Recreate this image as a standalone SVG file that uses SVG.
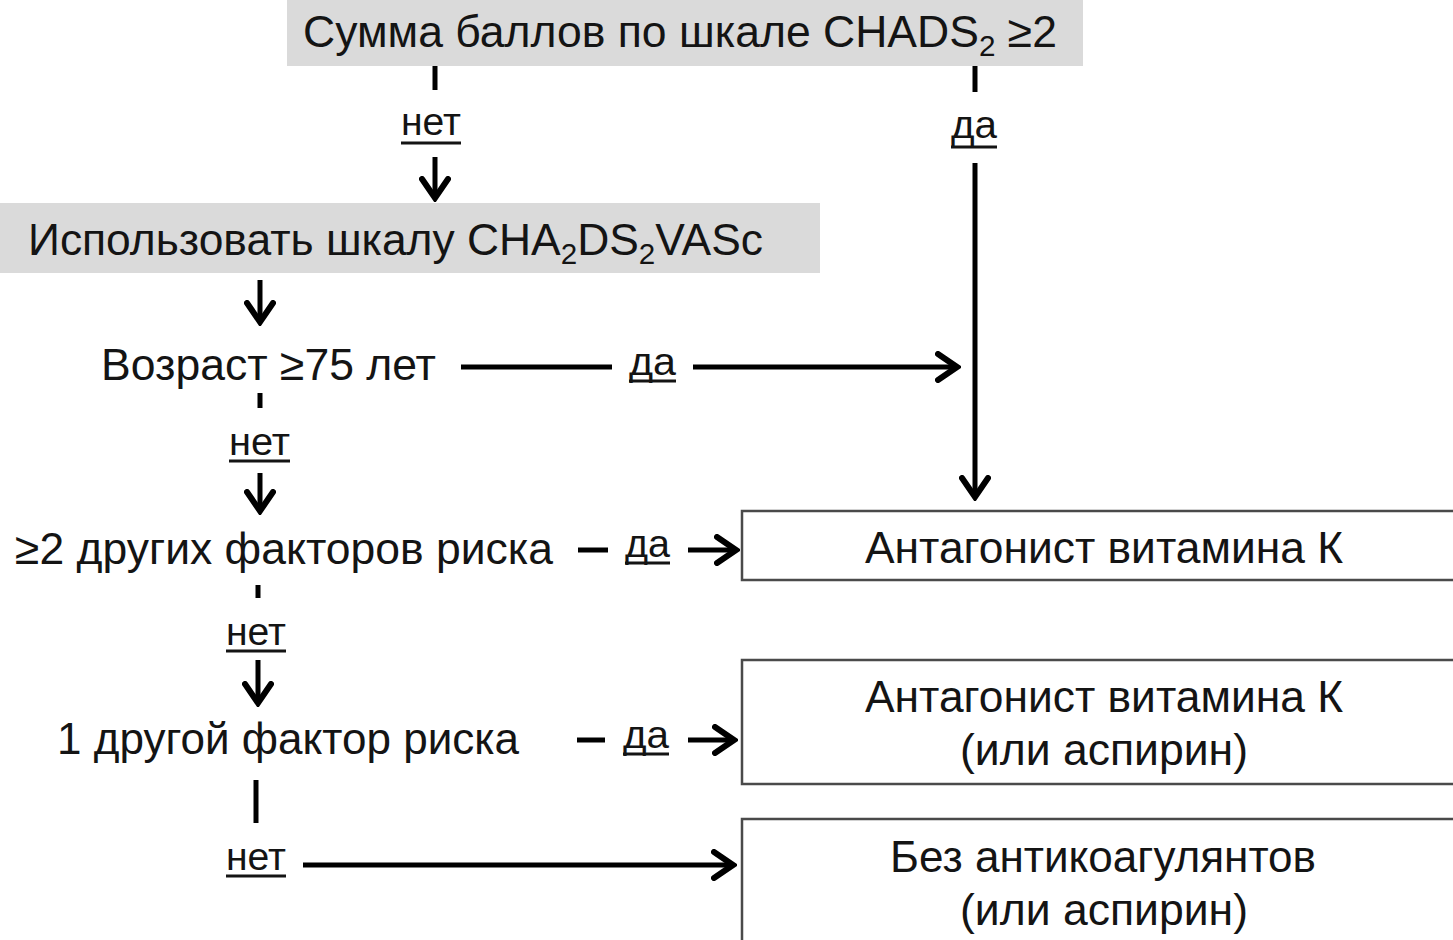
<svg xmlns="http://www.w3.org/2000/svg" width="1453" height="940" viewBox="0 0 1453 940">
<defs>
<marker id="chev" markerUnits="userSpaceOnUse" viewBox="0 0 26 32" markerWidth="26" markerHeight="32" refX="22" refY="16" orient="auto">
<path d="M3,3 L22,16 L3,29" fill="none" stroke="#000" stroke-width="6" stroke-linejoin="miter" stroke-linecap="round"/>
</marker>
</defs>
<style>
.t{font-family:"Liberation Sans",Arial,sans-serif;font-size:45px;fill:#141414}
.sub{font-size:30px}
.lb{font-family:"Liberation Sans",Arial,sans-serif;font-size:38px;fill:#141414}
.ul{stroke:#141414;stroke-width:3}
.gray{fill:#dadada}
.box{fill:#fff;stroke:#4a4a4a;stroke-width:2.5}
.c{stroke:#000;stroke-width:5;fill:none}
.a{stroke:#000;stroke-width:5;fill:none;marker-end:url(#chev)}
</style>
<rect width="1453" height="940" fill="#fff"/>
<g id="start">
<rect class="gray" x="287" y="0" width="796" height="66"/>
<text class="t" x="303" y="47" textLength="754" lengthAdjust="spacingAndGlyphs">Сумма баллов по шкале CHADS<tspan class="sub" dy="9">2</tspan><tspan dy="-9"> ≥2</tspan></text>
</g>
<g id="use-cha2ds2vasc">
<rect class="gray" x="0" y="203" width="820" height="70"/>
<text class="t" x="28" y="255" textLength="735" lengthAdjust="spacingAndGlyphs">Использовать шкалу CHA<tspan class="sub" dy="9">2</tspan><tspan dy="-9">DS</tspan><tspan class="sub" dy="9">2</tspan><tspan dy="-9">VASc</tspan></text>
</g>
<g id="age">
<text class="t" x="101" y="380" textLength="335" lengthAdjust="spacingAndGlyphs">Возраст ≥75 лет</text>
</g>
<g id="two-factors">
<text class="t" x="15" y="564" textLength="538" lengthAdjust="spacingAndGlyphs">≥2 других факторов риска</text>
</g>
<g id="one-factor">
<text class="t" x="57" y="754" textLength="462" lengthAdjust="spacingAndGlyphs">1 другой фактор риска</text>
</g>
<g id="vka">
<rect class="box" x="742" y="511" width="730" height="69"/>
<text class="t" x="865" y="563" textLength="478" lengthAdjust="spacingAndGlyphs">Антагонист витамина К</text>
</g>
<g id="vka-or-aspirin">
<rect class="box" x="742" y="660" width="730" height="124"/>
<text class="t" x="865" y="712" textLength="478" lengthAdjust="spacingAndGlyphs">Антагонист витамина К</text>
<text class="t" x="960" y="765" textLength="288" lengthAdjust="spacingAndGlyphs">(или аспирин)</text>
</g>
<g id="no-anticoag">
<rect class="box" x="742" y="819" width="730" height="140"/>
<text class="t" x="890" y="872" textLength="426" lengthAdjust="spacingAndGlyphs">Без антикоагулянтов</text>
<text class="t" x="960" y="925" textLength="288" lengthAdjust="spacingAndGlyphs">(или аспирин)</text>
</g>
<g id="connectors">
<line class="c" x1="435" y1="66" x2="435" y2="90"/>
<line class="a" x1="435" y1="157" x2="435" y2="198"/>
<line class="c" x1="975" y1="66" x2="975" y2="92"/>
<line class="a" x1="975" y1="163" x2="975" y2="497"/>
<line class="a" x1="260" y1="280" x2="260" y2="322"/>
<line class="c" x1="461" y1="367" x2="612" y2="367"/>
<line class="a" x1="693" y1="367" x2="957" y2="367"/>
<line class="c" x1="260" y1="393" x2="260" y2="408"/>
<line class="a" x1="260" y1="473" x2="260" y2="511"/>
<line class="c" x1="578" y1="550" x2="608" y2="550"/>
<line class="a" x1="688" y1="550" x2="736" y2="550"/>
<line class="c" x1="258" y1="585" x2="258" y2="598"/>
<line class="a" x1="258" y1="660" x2="258" y2="703"/>
<line class="c" x1="577" y1="740" x2="605" y2="740"/>
<line class="a" x1="688" y1="740" x2="734" y2="740"/>
<line class="c" x1="256" y1="780" x2="256" y2="823"/>
<line class="a" x1="303" y1="865" x2="733" y2="865"/>
<g id="labels">
<text class="lb" x="401" y="135" textLength="60" lengthAdjust="spacingAndGlyphs">нет</text>
<line class="ul" x1="401" y1="143" x2="461" y2="143"/>
<text class="lb" x="951" y="138" textLength="46" lengthAdjust="spacingAndGlyphs">да</text>
<line class="ul" x1="951" y1="147" x2="997" y2="147"/>
<text class="lb" x="629" y="375" textLength="47" lengthAdjust="spacingAndGlyphs">да</text>
<line class="ul" x1="629" y1="381" x2="676" y2="381"/>
<text class="lb" x="229" y="455" textLength="61" lengthAdjust="spacingAndGlyphs">нет</text>
<line class="ul" x1="229" y1="461" x2="290" y2="461"/>
<text class="lb" x="625" y="557" textLength="45" lengthAdjust="spacingAndGlyphs">да</text>
<line class="ul" x1="625" y1="563" x2="670" y2="563"/>
<text class="lb" x="226" y="645" textLength="60" lengthAdjust="spacingAndGlyphs">нет</text>
<line class="ul" x1="226" y1="651" x2="286" y2="651"/>
<text class="lb" x="623" y="748" textLength="46" lengthAdjust="spacingAndGlyphs">да</text>
<line class="ul" x1="623" y1="754" x2="669" y2="754"/>
<text class="lb" x="226" y="870" textLength="60" lengthAdjust="spacingAndGlyphs">нет</text>
<line class="ul" x1="226" y1="876" x2="286" y2="876"/>
</g>
</g>
</svg>
